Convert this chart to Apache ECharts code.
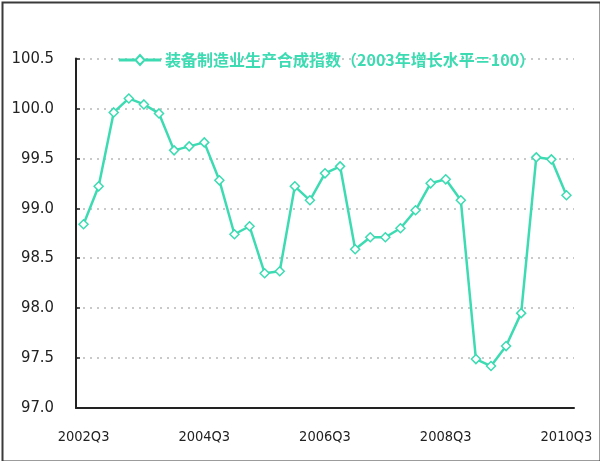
<!DOCTYPE html>
<html>
<head>
<meta charset="utf-8">
<script src="https://cdn.jsdelivr.net/npm/echarts@6/dist/echarts.min.js"></script>
<style>
html,body{margin:0;padding:0;background:#fff;}
#c{width:600px;height:461px;}
</style>
</head>
<body>
<div id="c"></div>
<script>
const categories = [
  '2002Q3','2002Q4','2003Q1','2003Q2','2003Q3','2003Q4','2004Q1','2004Q2',
  '2004Q3','2004Q4','2005Q1','2005Q2','2005Q3','2005Q4','2006Q1','2006Q2',
  '2006Q3','2006Q4','2007Q1','2007Q2','2007Q3','2007Q4','2008Q1','2008Q2',
  '2008Q3','2008Q4','2009Q1','2009Q2','2009Q3','2009Q4','2010Q1','2010Q2',
  '2010Q3'
];
const seriesName = '装备制造业生产合成指数（2003年增长水平＝100）';
const indexValues = [
  98.84, 99.22, 99.96, 100.10, 100.04, 99.95, 99.58, 99.62,
  99.66, 99.28, 98.74, 98.82, 98.35, 98.37, 99.22, 99.08,
  99.35, 99.42, 98.59, 98.71, 98.71, 98.80, 98.98, 99.25,
  99.29, 99.08, 97.49, 97.42, 97.62, 97.95, 99.51, 99.49,
  99.13
];
const yTicks = { min: 97.0, max: 100.5, step: 0.5 };

const lineColor = '#3ddbb2';
const chart = echarts.init(document.getElementById('c'));
chart.setOption({
  animation: false,
  backgroundColor: '#ffffff',
  graphic: [{
    type: 'rect', left: 0, top: 0, z: 100, silent: true,
    shape: { x: 1, y: 1, width: 598, height: 459 },
    style: { fill: 'none', stroke: '#3a3a3a', lineWidth: 2 }
  }],
  legend: {
    top: 47, left: 114,
    itemWidth: 40, itemHeight: 10, itemGap: 4,
    textStyle: { color: lineColor, fontSize: 16, fontFamily: 'Noto Sans CJK SC', fontWeight: 'bold' },
    data: [{ name: seriesName, icon: 'path://M0,4.5 L16,4.5 L20,0 L24,4.5 L40,4.5 L40,5.5 L24,5.5 L20,10 L16,5.5 L0,5.5 Z' }]
  },
  grid: { left: 76, right: 26, top: 58.5, bottom: 53, containLabel: false },
  xAxis: {
    type: 'category',
    data: categories,
    boundaryGap: true,
    axisLine: { lineStyle: { color: '#222', width: 2 } },
    axisTick: { inside: true, length: 4, interval: 1, lineStyle: { color: '#222', width: 1.5 } },
    axisLabel: {
      interval: 7, color: '#222', fontSize: 14.5, margin: 22,
      fontFamily: 'DejaVu Sans Condensed'
    },
    splitLine: { show: false }
  },
  yAxis: {
    type: 'value',
    min: yTicks.min, max: yTicks.max, interval: yTicks.step,
    axisLine: { show: true, lineStyle: { color: '#222', width: 2 } },
    axisTick: { show: true, inside: true, length: 4, lineStyle: { color: '#222', width: 1.5 } },
    axisLabel: {
      color: '#222', fontSize: 16.5, margin: 22,
      fontFamily: 'DejaVu Sans Condensed',
      formatter: v => v.toFixed(1)
    },
    splitLine: { show: true, lineStyle: { color: '#b8b8b8', type: [2, 5], width: 1.5 } }
  },
  series: [{
    name: seriesName,
    type: 'line',
    data: indexValues,
    symbol: 'diamond',
    symbolSize: 9,
    showAllSymbol: true,
    itemStyle: { color: '#ffffff', borderColor: lineColor, borderWidth: 1.5 },
    lineStyle: { color: lineColor, width: 2.5 }
  }]
});
</script>
</body>
</html>
